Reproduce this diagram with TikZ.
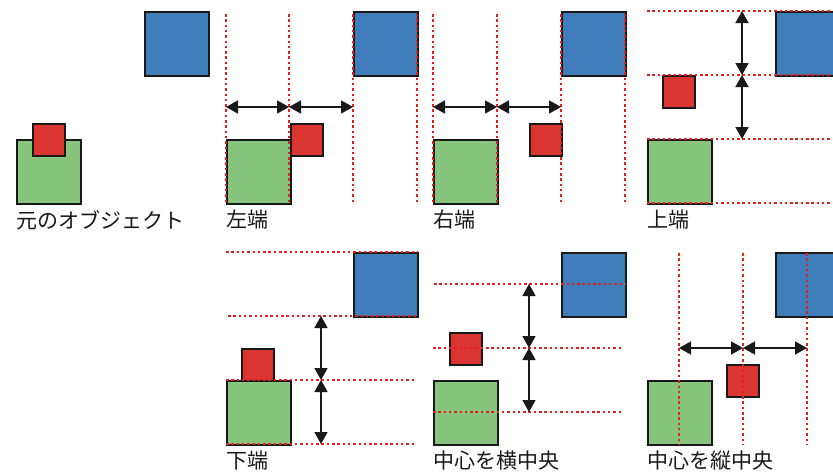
\documentclass[tikz,border=0pt]{standalone}
\usepackage{fontspec}
\setmainfont{Noto Sans CJK JP}
\usepackage{xcolor}
\usetikzlibrary{arrows.meta, positioning}

\definecolor{objgreen}{HTML}{86C57B}
\definecolor{objblue}{HTML}{3F7EBB}
\definecolor{objred}{HTML}{DB3532}
\definecolor{guidered}{HTML}{E0201C}

\begin{document}
\begin{tikzpicture}[
  x=1pt, y=-1pt,
  obj/.style={rectangle, draw=black!90, line width=1.6pt, inner sep=0pt,
              minimum size=64pt, anchor=north west},
  greenobj/.style={obj, fill=objgreen},
  blueobj/.style={obj, fill=objblue},
  redobj/.style={obj, minimum size=32pt, fill=objred},
  guide/.style={draw=guidered, line width=1.9pt, dash pattern=on 2.5pt off 2.8pt},
  arr/.style={{Triangle[length=12pt,width=13pt]}-{Triangle[length=12pt,width=13pt]},
              line width=1.7pt, draw=black!90},
  lbl/.style={anchor=west, inner sep=0pt, text=black!90,
              font=\fontsize{21pt}{25pt}\selectfont}
]
  \clip (0,0) rectangle (833,472);

  \node[greenobj] (g1) at (16,139) {};
  \node[redobj]   (r1) at (32,123) {};
  \node[blueobj]  (b1) at (144,11) {};
  \node[lbl] (t1) at (16,220) {元のオブジェクト};

  \node[greenobj] (g2) at (226,139) {};
  \node[redobj]   (r2) at (290,123) {};
  \node[blueobj]  (b2) at (353,11) {};
  \node[lbl] (t2) at (226,220) {左端};

  \node[greenobj] (g3) at (433,139) {};
  \node[redobj]   (r3) at (529,123) {};
  \node[blueobj]  (b3) at (561,11) {};
  \node[lbl] (t3) at (433,220) {右端};

  \node[greenobj] (g4) at (647,139) {};
  \node[redobj]   (r4) at (662,75) {};
  \node[blueobj]  (b4) at (775,11) {};
  \node[lbl] (t4) at (647,220) {上端};

  \node[greenobj] (g5) at (226,380) {};
  \node[redobj]   (r5) at (241,348) {};
  \node[blueobj]  (b5) at (353,252) {};
  \node[lbl] (t5) at (226,461) {下端};

  \node[greenobj] (g6) at (433,380) {};
  \node[redobj]   (r6) at (449,332) {};
  \node[blueobj]  (b6) at (561,252) {};
  \node[lbl] (t6) at (433,461) {中心を横中央};

  \node[greenobj] (g7) at (647,380) {};
  \node[redobj]   (r7) at (726,364) {};
  \node[blueobj]  (b7) at (775,252) {};
  \node[lbl] (t7) at (647,461) {中心を縦中央};

  % guide lines
  \draw[guide] (226,14) -- (226,203) (289,14) -- (289,203)
               (353,14) -- (353,203) (417,14) -- (417,203);
  \draw[guide] (433,14) -- (433,203) (497,14) -- (497,203)
               (561,14) -- (561,203) (625,14) -- (625,203);
  \draw[guide] (647,11) -- (833,11) (647,75) -- (833,75)
               (647,139) -- (833,139) (647,203) -- (833,203);
  \draw[guide] (226,252) -- (417,252) (228,316) -- (417,316)
               (226,380) -- (415,380) (226,444) -- (415,444);
  \draw[guide] (434,284) -- (625,284) (433,348) -- (623,348)
               (433,412) -- (623,412);
  \draw[guide] (679,253) -- (679,444) (743,253) -- (743,444)
               (807,253) -- (807,444);

  \coordinate (a2l) at (226,107);
  \coordinate (a2m) at (289,107);
  \coordinate (a2r) at (353,107);
  \coordinate (a3l) at (433,107);
  \coordinate (a3m) at (497,107);
  \coordinate (a3r) at (561,107);
  \coordinate (a4t) at (742,11);
  \coordinate (a4m) at (742,75);
  \coordinate (a4b) at (742,139);
  \coordinate (a5t) at (321,316);
  \coordinate (a5m) at (321,380);
  \coordinate (a5b) at (321,444);
  \coordinate (a6t) at (529,284);
  \coordinate (a6m) at (529,348);
  \coordinate (a6b) at (529,412);
  \coordinate (a7l) at (679,348);
  \coordinate (a7m) at (743,348);
  \coordinate (a7r) at (807,348);

  \draw[arr] (a2l) -- (a2m);
  \draw[arr] (a2m) -- (a2r);
  \draw[arr] (a3l) -- (a3m);
  \draw[arr] (a3m) -- (a3r);
  \draw[arr] (a4t) -- (a4m);
  \draw[arr] (a4m) -- (a4b);
  \draw[arr] (a5t) -- (a5m);
  \draw[arr] (a5m) -- (a5b);
  \draw[arr] (a6t) -- (a6m);
  \draw[arr] (a6m) -- (a6b);
  \draw[arr] (a7l) -- (a7m);
  \draw[arr] (a7m) -- (a7r);
\end{tikzpicture}
\end{document}
